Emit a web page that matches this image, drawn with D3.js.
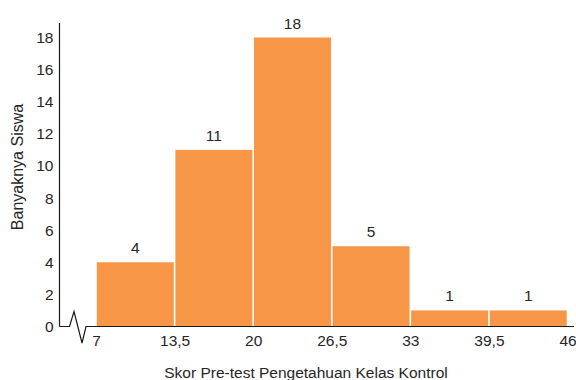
<!DOCTYPE html>
<html>
<head>
<meta charset="utf-8">
<script src="https://cdn.jsdelivr.net/npm/d3@7"></script>
<style>
  html, body { margin: 0; padding: 0; background: #fff; }
  svg { display: block; }
  text { font-family: "Liberation Sans", Arial, sans-serif; fill: #262626; }
</style>
</head>
<body>
<svg id="chart" width="576" height="380"></svg>
<script>
// Class boundaries of the score intervals
const classEdges = [7, 13.5, 20, 26.5, 33, 39.5, 46];
// Frequency (number of students) for each interval
const frequencies = [4, 11, 18, 5, 1, 1];
// Y-axis tick values
const yTicks = [0, 2, 4, 6, 8, 10, 12, 14, 16, 18];

const bins = frequencies.map((f, i) => ({ x0: classEdges[i], x1: classEdges[i + 1], count: f }));

const svg = d3.select("#chart");
const axisX = 59.5;      // position of the vertical axis line
const baseY = 326.5;     // position of the horizontal axis line

const x = d3.scaleLinear().domain([7, 46]).range([96, 567.5]);
const y = d3.scaleLinear().domain([0, 18]).range([baseY, 37.5]);

const fontSize = 15.5;
const barColor = "#F79646";

// Bars with a thin white gap between neighbours
svg.append("g").selectAll("rect")
  .data(bins)
  .join("rect")
  .attr("x", d => x(d.x0) + 0.8)
  .attr("y", d => y(d.count))
  .attr("width", d => x(d.x1) - x(d.x0) - 1.6)
  .attr("height", d => y(0) - y(d.count))
  .attr("fill", barColor);

// Value labels above the bars
svg.append("g").selectAll("text")
  .data(bins)
  .join("text")
  .attr("x", d => (x(d.x0) + x(d.x1)) / 2)
  .attr("y", d => y(d.count) - 9)
  .attr("text-anchor", "middle")
  .style("font-size", fontSize + "px")
  .text(d => d.count);

// Y axis: line plus labels, no tick marks
const yAxis = d3.axisLeft(y).tickValues(yTicks).tickSize(0).tickPadding(6);
const gy = svg.append("g").attr("transform", `translate(${axisX},0)`).call(yAxis);
gy.select(".domain").remove();
gy.selectAll("text").style("font-size", fontSize + "px").attr("fill", "#262626")
  .style("font-family", "'Liberation Sans', Arial, sans-serif");
svg.append("line")
  .attr("x1", axisX).attr("x2", axisX)
  .attr("y1", y(18.9)).attr("y2", baseY)
  .attr("stroke", "#1a1a1a").attr("stroke-width", 1.2);

// X axis labels at class boundaries (comma as decimal separator)
const fmt = v => String(v).replace(".", ",");
const xAxis = d3.axisBottom(x).tickValues(classEdges).tickSize(0).tickPadding(8).tickFormat(fmt);
const gx = svg.append("g").attr("transform", `translate(0,${baseY})`).call(xAxis);
gx.select(".domain").remove();
gx.selectAll("text").style("font-size", fontSize + "px").attr("fill", "#262626")
  .style("font-family", "'Liberation Sans', Arial, sans-serif");

// Horizontal axis line with a break symbol near the origin
const breakPath = d3.line()([
  [axisX, baseY], [69.5, baseY], [74, 311.5], [82, 343], [86, baseY], [574, baseY]
]);
svg.append("path")
  .attr("d", breakPath)
  .attr("fill", "none")
  .attr("stroke", "#1a1a1a")
  .attr("stroke-width", 1.2)
  .attr("stroke-linejoin", "miter");

// Axis titles
svg.append("text")
  .attr("x", 306)
  .attr("y", 378)
  .attr("text-anchor", "middle")
  .style("font-size", fontSize + "px")
  .text("Skor Pre-test Pengetahuan Kelas Kontrol");

svg.append("text")
  .attr("transform", "translate(23,167) rotate(-90)")
  .attr("text-anchor", "middle")
  .style("font-size", "16px")
  .text("Banyaknya Siswa");
</script>
</body>
</html>
